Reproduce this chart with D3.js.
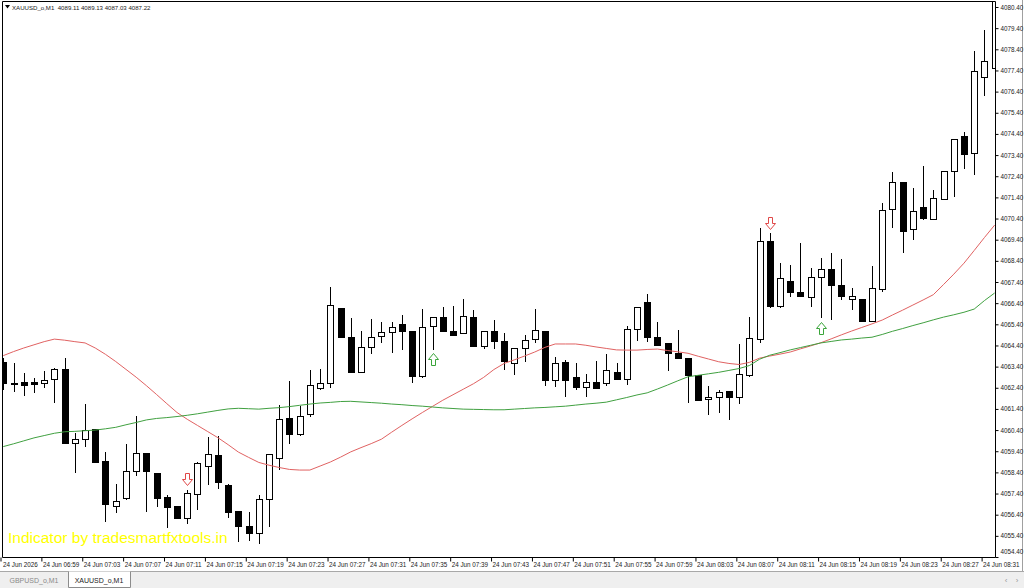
<!DOCTYPE html>
<html>
<head>
<meta charset="utf-8">
<script src="https://cdn.jsdelivr.net/npm/d3@7"></script>
<style>
  body{margin:0;background:#fff;overflow:hidden}
  svg{display:block;font-family:"Liberation Sans",Arial,sans-serif}
</style>
</head>
<body>
<svg id="svg"></svg>
<script>
//chart values, one minute bars from 06:55
const openP  = [4063.62,4062.62,4062.67,4062.66,4062.62,4062.81,4063.28,4059.79,4059.97,4060.45,
                4058.93,4056.81,4057.18,4058.46,4059.31,4058.37,4057.23,4056.81,4056.24,4057.37,
                4058.70,4059.22,4057.80,4056.57,4055.86,4055.53,4057.14,4059.08,4060.97,4060.21,
                4061.16,4062.39,4062.62,4066.17,4064.80,4063.14,4064.32,4064.84,4065.03,4065.41,
                4065.08,4062.95,4065.32,4065.74,4065.08,4064.99,4065.74,4064.37,4065.08,4064.61,
                4063.57,4064.28,4064.70,4065.08,4062.76,4063.62,4062.91,4062.43,4062.67,4062.62,
                4063.14,4062.81,4065.18,4066.45,4064.80,4064.51,4064.04,4063.80,4063.00,4061.87,
                4061.96,4062.24,4061.96,4063.00,4064.70,4069.34,4066.26,4067.45,4066.92,4066.69,
                4067.63,4068.01,4067.26,4066.59,4066.59,4065.55,4067.07,4070.85,4072.13,4069.90,
                4070.94,4070.38,4071.32,4072.65,4074.30,4073.50,4077.09,4077.52]
const highP  = [4063.80,4063.57,4063.10,4062.86,4063.19,4063.33,4063.80,4060.26,4061.63,4060.47,
                4059.36,4057.85,4059.74,4061.06,4059.33,4058.38,4057.33,4056.82,4057.56,4058.89,
                4060.07,4060.12,4057.85,4056.59,4056.52,4057.33,4059.28,4061.58,4062.72,4061.53,
                4063.24,4063.28,4067.16,4066.18,4065.70,4065.08,4065.65,4065.51,4065.51,4065.84,
                4065.10,4066.12,4065.76,4066.21,4066.26,4066.59,4066.07,4065.09,4065.60,4064.99,
                4064.29,4064.89,4066.12,4065.10,4063.85,4063.71,4063.57,4063.05,4063.66,4063.99,
                4063.57,4065.32,4066.23,4066.83,4065.51,4064.52,4065.13,4063.81,4063.01,4062.48,
                4062.29,4062.25,4064.47,4065.74,4069.95,4069.71,4068.30,4068.20,4069.24,4068.06,
                4068.53,4068.77,4068.49,4067.11,4066.60,4068.15,4071.13,4072.60,4072.14,4071.84,
                4072.88,4071.75,4072.66,4074.17,4074.49,4078.32,4079.31,4081.50]
const lowP   = [4062.29,4062.20,4062.01,4062.15,4062.39,4061.68,4059.76,4058.37,4059.60,4058.87,
                4056.05,4056.47,4057.09,4058.22,4056.52,4056.76,4055.77,4056.22,4055.96,4056.62,
                4057.80,4057.61,4056.24,4055.10,4055.15,4055.01,4055.81,4058.51,4059.74,4060.12,
                4061.01,4062.29,4062.39,4064.78,4063.10,4063.12,4064.00,4064.51,4064.04,4064.18,
                4062.62,4062.86,4064.18,4065.06,4064.88,4064.98,4064.36,4064.23,4064.23,4063.24,
                4063.00,4063.62,4064.51,4062.48,4062.43,4061.96,4062.29,4061.96,4062.38,4062.48,
                4062.80,4062.53,4064.61,4064.56,4064.41,4063.19,4063.79,4061.68,4061.77,4061.11,
                4061.20,4060.87,4061.63,4062.91,4064.51,4066.17,4066.17,4066.69,4066.72,4066.22,
                4065.70,4065.60,4066.55,4066.07,4065.53,4065.53,4066.92,4069.95,4068.77,4069.38,
                4070.33,4070.33,4071.28,4071.41,4072.74,4072.46,4076.19,4077.30]
const closeP = [4062.62,4062.60,4062.53,4062.58,4062.76,4063.28,4059.79,4059.97,4060.40,4058.89,
                4056.90,4057.04,4058.46,4059.31,4058.46,4057.18,4056.76,4056.24,4057.42,4058.84,
                4059.27,4057.94,4056.52,4055.86,4055.53,4057.14,4059.27,4060.92,4060.21,4061.06,
                4062.53,4062.62,4066.31,4064.80,4063.14,4064.32,4064.80,4065.03,4065.27,4065.08,
                4062.95,4065.27,4065.74,4065.08,4064.89,4065.79,4064.37,4065.08,4064.61,4063.66,
                4064.28,4064.66,4065.13,4062.76,4063.57,4062.76,4062.43,4062.67,4062.39,4063.24,
                4062.81,4065.18,4066.22,4064.80,4064.42,4064.04,4063.80,4063.00,4061.82,4061.96,
                4062.20,4061.96,4063.05,4064.75,4069.34,4066.26,4067.59,4066.92,4066.73,4067.63,
                4068.01,4067.26,4066.74,4066.74,4065.55,4067.11,4070.80,4072.13,4069.81,4070.75,
                4070.42,4071.37,4072.65,4074.16,4073.45,4077.37,4077.85,4081.20]

//moving averages (red fast, green slow)
const maRed   = [4063.92,4064.11,4064.28,4064.43,4064.58,4064.70,4064.65,4064.58,4064.52,4064.28,
                 4063.98,4063.64,4063.27,4062.90,4062.50,4062.08,4061.65,4061.23,4060.91,4060.62,
                 4060.33,4060.04,4059.71,4059.36,4059.11,4058.87,4058.74,4058.63,4058.54,4058.51,
                 4058.51,4058.70,4058.89,4059.12,4059.37,4059.57,4059.76,4059.97,4060.30,4060.62,
                 4060.93,4061.23,4061.52,4061.81,4062.07,4062.33,4062.59,4062.89,4063.26,4063.55,
                 4063.72,4063.90,4064.09,4064.31,4064.47,4064.47,4064.47,4064.41,4064.33,4064.26,
                 4064.19,4064.18,4064.18,4064.21,4064.23,4064.16,4064.10,4064.03,4063.89,4063.76,
                 4063.63,4063.55,4063.50,4063.60,4063.80,4063.90,4063.99,4064.09,4064.24,4064.38,
                 4064.53,4064.71,4064.90,4065.08,4065.25,4065.42,4065.60,4065.84,4066.07,4066.31,
                 4066.55,4066.80,4067.28,4067.77,4068.29,4068.89,4069.50,4070.09]
const maGreen = [4059.62,4059.75,4059.89,4060.03,4060.14,4060.25,4060.32,4060.34,4060.37,4060.40,
                 4060.46,4060.53,4060.65,4060.76,4060.88,4060.95,4060.99,4061.04,4061.10,4061.17,
                 4061.25,4061.33,4061.40,4061.43,4061.41,4061.39,4061.43,4061.46,4061.51,4061.57,
                 4061.63,4061.68,4061.71,4061.75,4061.76,4061.73,4061.70,4061.67,4061.63,4061.60,
                 4061.56,4061.53,4061.49,4061.45,4061.42,4061.39,4061.38,4061.37,4061.36,4061.36,
                 4061.39,4061.42,4061.45,4061.47,4061.50,4061.53,4061.58,4061.63,4061.67,4061.72,
                 4061.83,4061.94,4062.06,4062.16,4062.34,4062.53,4062.73,4062.92,4062.99,4063.06,
                 4063.13,4063.22,4063.31,4063.45,4063.75,4063.94,4064.06,4064.19,4064.30,4064.41,
                 4064.52,4064.59,4064.66,4064.70,4064.75,4064.79,4064.92,4065.07,4065.20,4065.34,
                 4065.47,4065.61,4065.74,4065.85,4065.97,4066.12,4066.52,4066.88]

//signal arrows: bar index + price of arrow centre
const sellIdx = [18, 75]
const sellPrice = [4058.08, 4070.21]
const buyIdx = [42, 80]
const buyPrice = [4063.76, 4065.22]

//axis labels
const priceTicks = [4080.40,4079.40,4078.40,4077.40,4076.40,4075.40,4074.40,4073.40,4072.40,
                    4071.40,4070.40,4069.40,4068.40,4067.40,4066.40,4065.40,4064.40,4063.40,
                    4062.40,4061.40,4060.40,4059.40,4058.40,4057.40,4056.40,4055.40,4054.40]
const timeIdx = [0,4,8,12,16,20,24,28,32,36,40,44,48,52,56,60,64,68,72,76,80,84,88,92,96]
const timeLabels = ['24 Jun 2026','24 Jun 06:59','24 Jun 07:03','24 Jun 07:07','24 Jun 07:11',
                    '24 Jun 07:15','24 Jun 07:19','24 Jun 07:23','24 Jun 07:27','24 Jun 07:31',
                    '24 Jun 07:35','24 Jun 07:39','24 Jun 07:43','24 Jun 07:47','24 Jun 07:51',
                    '24 Jun 07:55','24 Jun 07:59','24 Jun 08:03','24 Jun 08:07','24 Jun 08:11',
                    '24 Jun 08:15','24 Jun 08:19','24 Jun 08:23','24 Jun 08:27','24 Jun 08:31']
const header = 'XAUUSD_o,M1  4089.11 4089.13 4087.03 4087.22'
const tabs = ['GBPUSD_o,M1', 'XAUUSD_o,M1']

//declarations
let width = 1024
let height = 588
let frame = {left:2, top:1, right:995, bottom:557}
let svg = d3.select('#svg').attr('width', width).attr('height', height)

let n = openP.length
let bars = d3.range(n).map(i => ({i:i, o:openP[i], h:highP[i], l:lowP[i], c:closeP[i]}))

let xScale = d3.scaleLinear().domain([0, n - 1]).range([3.3, 3.3 + 10.22 * (n - 1)])
let yScale = d3.scaleLinear().domain([4054.40, 4080.40]).range([frame.bottom, 7])
let px = v => Math.round(v) + 0.5

//clip for plot area
svg.append('defs').append('clipPath').attr('id', 'plot')
   .append('rect')
   .attr('x', frame.left + 0.5).attr('y', frame.top + 0.5)
   .attr('width', frame.right - frame.left - 0.5).attr('height', frame.bottom - frame.top - 0.5)

//----------------------------------------------------------------------------------------------------
//watermark
svg.append('text')
   .attr('x', 8).attr('y', 543)
   .attr('font-size', 15.5)
   .attr('fill', '#ffff00')
   .text('Indicator by tradesmartfxtools.in')

let plot = svg.append('g').attr('clip-path', 'url(#plot)')

//candles
let candle = plot.selectAll('g.bar').data(bars).enter().append('g').classed('bar', true)
candle.append('line')
      .attr('x1', d => px(xScale(d.i))).attr('x2', d => px(xScale(d.i)))
      .attr('y1', d => Math.round(yScale(d.h))).attr('y2', d => Math.round(yScale(d.l)))
      .attr('stroke', '#000').attr('stroke-width', 1)
candle.append('rect')
      .attr('x', d => Math.round(xScale(d.i)) - 3 + 0.5)
      .attr('y', d => px(yScale(Math.max(d.o, d.c))))
      .attr('width', 6)
      .attr('height', d => Math.max(1, Math.round(yScale(Math.min(d.o, d.c)) - yScale(Math.max(d.o, d.c)))))
      .attr('fill', d => d.c >= d.o ? '#fff' : '#000')
      .attr('stroke', '#000').attr('stroke-width', 1)

//moving averages
let maLine = d3.line().x((d, i) => xScale(i)).y(d => yScale(d))
plot.append('path').datum(maRed).attr('d', maLine)
    .attr('fill', 'none').attr('stroke', '#e06262').attr('stroke-width', 1)
plot.append('path').datum(maGreen).attr('d', maLine)
    .attr('fill', 'none').attr('stroke', '#40a040').attr('stroke-width', 1)

//hollow arrows
let arrowDown = (x, y) => `M${x-1.5},${y-6}H${x+2.5}V${y}H${x+5.5}L${x+0.5},${y+6}L${x-4.5},${y}H${x-1.5}Z`
let arrowUp = (x, y) => `M${x-1.5},${y+6}H${x+2.5}V${y}H${x+5.5}L${x+0.5},${y-6}L${x-4.5},${y}H${x-1.5}Z`
plot.selectAll('path.sell').data(sellIdx).enter().append('path').classed('sell', true)
    .attr('d', (d, k) => arrowDown(Math.round(xScale(d)), Math.round(yScale(sellPrice[k])) + 0.5))
    .attr('fill', '#fff').attr('stroke', '#e04848').attr('stroke-width', 1)
plot.selectAll('path.buy').data(buyIdx).enter().append('path').classed('buy', true)
    .attr('d', (d, k) => arrowUp(Math.round(xScale(d)), Math.round(yScale(buyPrice[k])) + 0.5))
    .attr('fill', '#fff').attr('stroke', '#3aa53a').attr('stroke-width', 1)

//----------------------------------------------------------------------------------------------------
//frame
svg.append('path')
   .attr('d', `M${frame.left + 0.5},${frame.top + 0.5}H${frame.right + 0.5}V${frame.bottom + 0.5}H${frame.left + 0.5}Z`)
   .attr('fill', 'none').attr('stroke', '#000').attr('stroke-width', 1)
svg.append('line')
   .attr('x1', 1022.5).attr('x2', 1022.5).attr('y1', 0).attr('y2', 571)
   .attr('stroke', '#a0a0a0')

//price axis
let yAxis = d3.axisRight(yScale).tickValues(priceTicks).tickSize(3).tickPadding(2).tickFormat(d3.format('.2f'))
let yGroup = svg.append('g')
   .attr('transform', `translate(${frame.right + 0.5},0)`)
   .call(yAxis)
yGroup.select('.domain').remove()
yGroup.selectAll('.tick line').attr('stroke', '#000')
yGroup.selectAll('.tick text')
   .attr('font-size', 6.3).attr('fill', '#222').attr('font-family', '"Liberation Sans",Arial,sans-serif')
   .attr('dy', (d) => d === 4054.40 ? '-0.6em' : '0.32em')

//time axis, ticks sit on the left edge of the bar
let tScale = xScale.copy().range(xScale.range().map(v => v - 3.3))
let xAxis = d3.axisBottom(tScale).tickValues(timeIdx).tickSize(4).tickPadding(0)
   .tickFormat((d, k) => timeLabels[k])
let xGroup = svg.append('g')
   .attr('transform', `translate(0.5,${frame.bottom + 0.5})`)
   .call(xAxis)
xGroup.select('.domain').remove()
xGroup.selectAll('.tick line').attr('stroke', '#000')
xGroup.selectAll('.tick text')
   .attr('text-anchor', 'start').attr('x', (d) => d === 0 ? 2 : 1).attr('y', 5.5)
   .attr('font-size', 6.3).attr('fill', '#222').attr('font-family', '"Liberation Sans",Arial,sans-serif')

//header
svg.append('path').attr('d', 'M5,5H10L7.5,8.5Z').attr('fill', '#000')
svg.append('text')
   .attr('x', 12).attr('y', 9.5)
   .attr('font-size', 6.1).attr('fill', '#222')
   .attr('xml:space', 'preserve')
   .text(header)

//----------------------------------------------------------------------------------------------------
//tab bar
svg.append('rect').attr('x', 0).attr('y', 571).attr('width', width).attr('height', 17).attr('fill', '#efefef')
svg.append('line').attr('x1', 0).attr('x2', width).attr('y1', 571.5).attr('y2', 571.5).attr('stroke', '#a8a8a8')
svg.append('path')
   .attr('d', 'M68.5,571.5V587.5H130.5V571.5')
   .attr('fill', '#fff').attr('stroke', '#8c8c8c')
svg.append('text').attr('x', 34).attr('y', 583).attr('text-anchor', 'middle')
   .attr('font-size', 7).attr('fill', '#8a8a8a').text(tabs[0])
svg.append('text').attr('x', 99).attr('y', 583).attr('text-anchor', 'middle')
   .attr('font-size', 7).attr('fill', '#222').text(tabs[1])
svg.append('text').attr('x', 1006).attr('y', 583).attr('text-anchor', 'middle')
   .attr('font-size', 8).attr('fill', '#999').text('‹')
svg.append('text').attr('x', 1017).attr('y', 583).attr('text-anchor', 'middle')
   .attr('font-size', 8).attr('fill', '#999').text('›')
</script>
</body>
</html>
